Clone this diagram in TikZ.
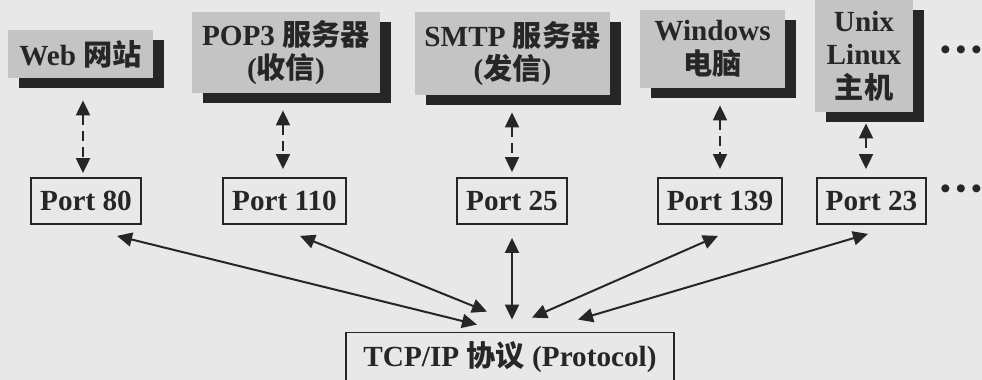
\documentclass[tikz,border=0pt]{standalone}
\usepackage{fontspec}
\setmainfont{Liberation Serif}
\newfontfamily\cjk{Noto Sans CJK SC}
\usetikzlibrary{arrows.meta, shadows}
\definecolor{paper}{HTML}{E8E8E8}
\definecolor{boxgray}{HTML}{C4C4C4}
\definecolor{ink}{HTML}{262626}

\begin{document}
\begin{tikzpicture}[
  x=0.5pt, y=-0.5pt,
  every node/.style = {font=\fontsize{14.6}{16.8}\selectfont\bfseries, text=ink},
  site/.style    = {fill=boxgray, align=center, inner sep=2pt,
                    drop shadow={shadow xshift=5.5pt, shadow yshift=-5pt,
                                 fill=ink, opacity=1}},
  port/.style    = {draw=ink, line width=0.9pt, inner xsep=4.5pt,
                    minimum height=23pt},
  arr/.style     = {{Triangle[length=7.5pt,width=7pt]}-{Triangle[length=7.5pt,width=7pt]},
                    draw=ink, line width=1pt},
  dasharr/.style = {arr, dash pattern=on 5pt off 3pt},
]
\fill[paper] (0,0) rectangle (982,380);
\useasboundingbox (0,0) rectangle (982,380);

% hosts
\node[site, minimum width=72.5pt, minimum height=24pt]   (web)  at (80.5,54)  {Web {\cjk 网站}};
\node[site, minimum width=94pt,   minimum height=40.5pt] (pop)  at (286,52.5) {POP3 {\cjk 服务器}\\({\cjk 收信})};
\node[site, minimum width=97.5pt, minimum height=41.5pt] (smtp) at (512.5,53.5) {SMTP {\cjk 服务器}\\({\cjk 发信})};
\node[site, minimum width=72.5pt, minimum height=39pt]   (win)  at (712.5,49) {Windows\\{\cjk 电脑}};
\node[site, minimum width=49pt,   minimum height=56pt]   (unix) at (864,56)   {Unix\\Linux\\{\cjk 主机}};
\node (topdots) at (961,53) {•\hspace{2.6pt}•\hspace{2.6pt}•};

% ports
\node[port] (p80)  at (86,201)    {Port 80};
\node[port] (p110) at (284.5,201) {Port 110};
\node[port] (p25)  at (512,201)   {Port 25};
\node[port] (p139) at (720,201)   {Port 139};
\node[port] (p23)  at (871.5,201) {Port 23};
\node (portdots) at (961,192) {•\hspace{2.6pt}•\hspace{2.6pt}•};

% protocol
\node[draw=ink, line width=0.9pt, minimum width=164pt, minimum height=24.5pt]
  (tcp) at (510,357) {TCP/IP {\cjk 协议} (Protocol)};

\draw[dasharr] ([xshift=1.25pt,yshift=-11pt]web.south)  -- ([xshift=-1.5pt,yshift=2pt]p80.north);
\draw[dasharr] ([xshift=-1.5pt,yshift=-8.5pt]pop.south) -- ([xshift=-0.75pt,yshift=4pt]p110.north);
\draw[dasharr] ([xshift=-0.25pt,yshift=-8.5pt]smtp.south) -- ([yshift=2.5pt]p25.north);
\draw[dasharr] ([xshift=3.75pt,yshift=-8.5pt]win.south) -- ([yshift=4pt]p139.north);
\draw[dasharr] ([xshift=1pt,yshift=-5.5pt]unix.south)   -- ([xshift=-2.75pt,yshift=4pt]p23.north);

\draw[arr] ([xshift=15.5pt,yshift=-5.5pt]p80.south)  -- ([xshift=-16.5pt,yshift=3.5pt]tcp.north);
\draw[arr] ([xshift=7.75pt,yshift=-5.5pt]p110.south) -- ([xshift=-11.5pt,yshift=10pt]tcp.north);
\draw[arr] ([yshift=-6.5pt]p25.south)                -- ([xshift=1pt,yshift=6pt]tcp.north);
\draw[arr] ([xshift=-1pt,yshift=-5.5pt]p139.south)   -- ([xshift=11pt,yshift=7pt]tcp.north);
\draw[arr] ([xshift=-1.75pt,yshift=-4.5pt]p23.south) -- ([xshift=34pt,yshift=6pt]tcp.north);
\end{tikzpicture}
\end{document}
